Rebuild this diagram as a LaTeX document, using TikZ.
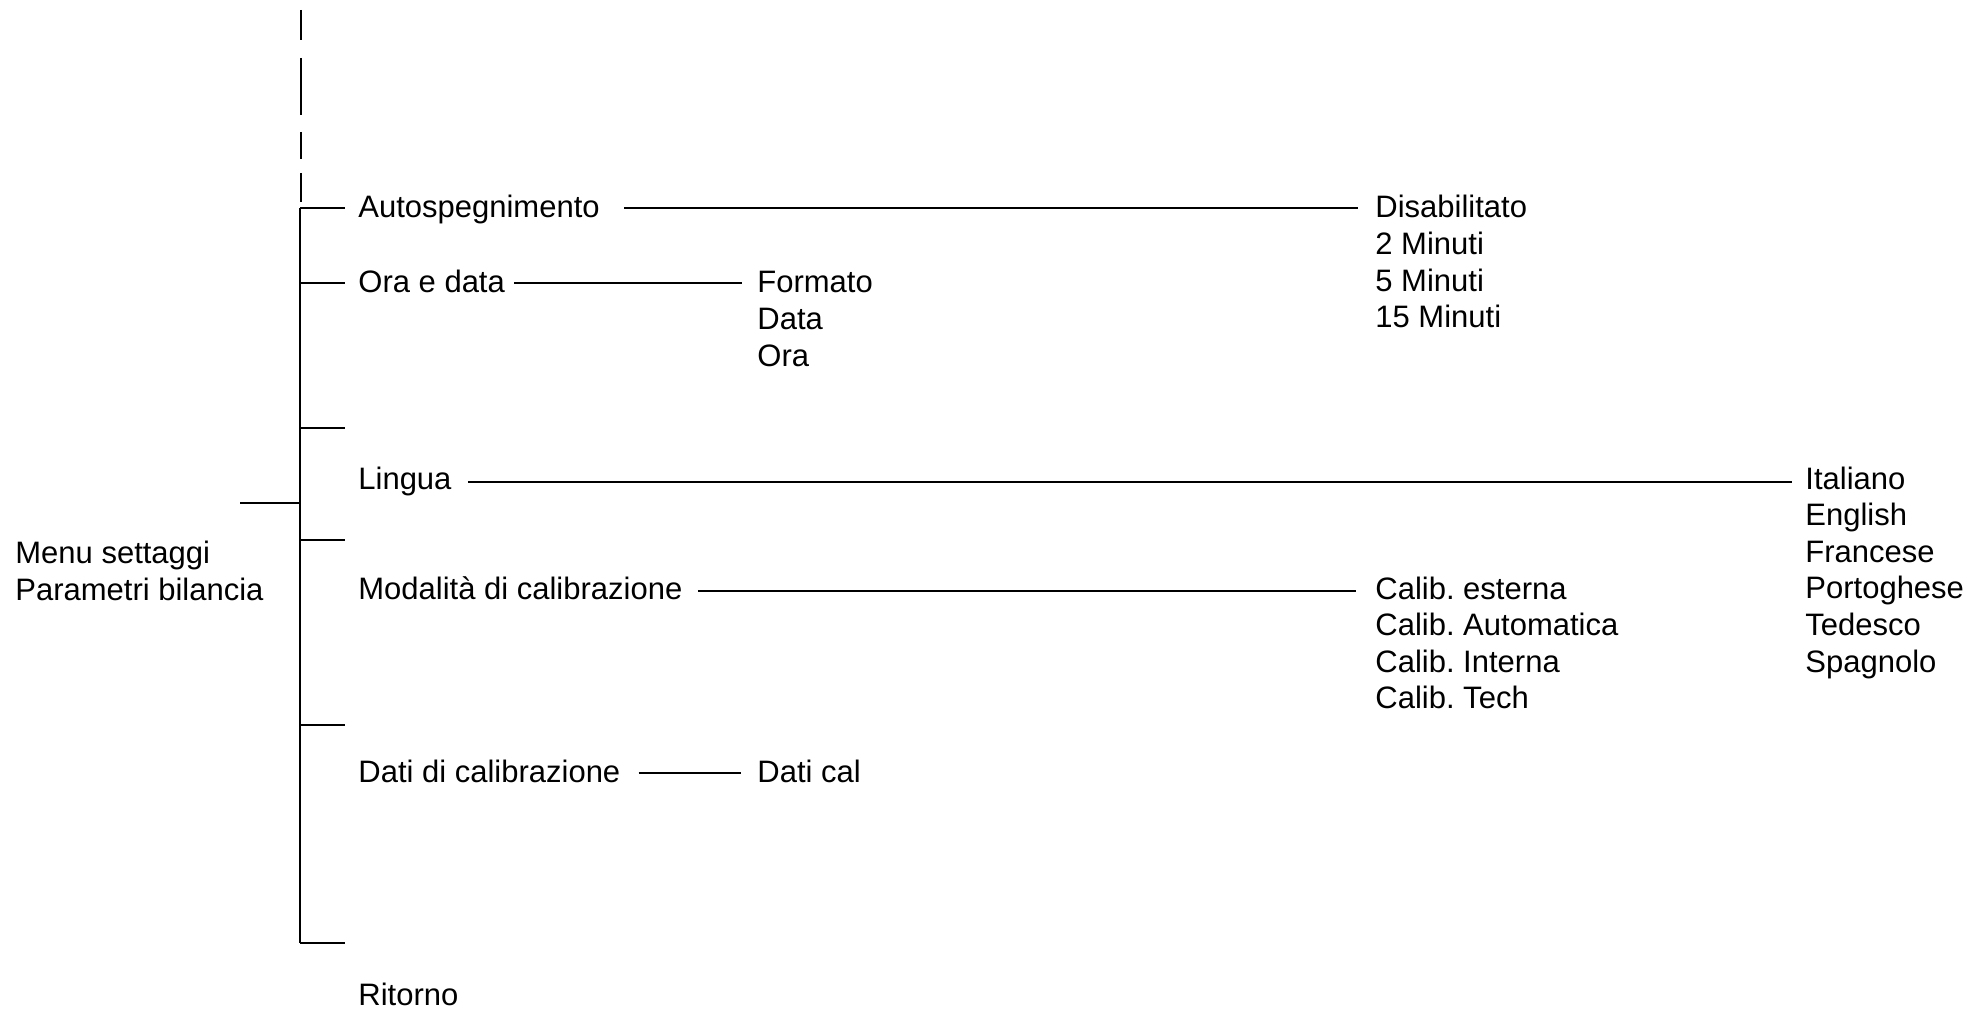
\documentclass[tikz,border=0pt]{standalone}
\usepackage{fontspec}
\setmainfont{Liberation Sans}
\usetikzlibrary{calc}
\frenchspacing
\begin{document}
\begin{tikzpicture}[x=0.5pt,y=-0.5pt,
  txt/.style={anchor=base west,inner sep=0pt,font=\fontsize{15.5pt}{18.3pt}\selectfont},
  ln/.style={line width=1.2pt}]
\useasboundingbox (0,0) rectangle (1969,1010);
% root
\node[txt] (menu) at (15,563) {Menu settaggi};
\node[txt] (param) at (15,600) {Parametri bilancia};
% level 1
\node[txt] (autosp) at (358,218) {Autospegnimento};
\node[txt] (oradata) at (358,293) {Ora e data};
\node[txt] (lingua) at (358,489) {Lingua};
\node[txt] (modal) at (358,599) {Modalità di calibrazione};
\node[txt] (daticalib) at (358,782) {Dati di calibrazione};
\node[txt] (ritorno) at (358,1005) {Ritorno};
% level 2: ora e data / dati
\node[txt] (formato) at (757,293) {Formato};
\node[txt] (data) at (757,329.6) {Data};
\node[txt] (ora) at (757,366.2) {Ora};
\node[txt] (datical) at (757,782) {Dati cal};
% autospegnimento options
\node[txt] (disab) at (1375,218) {Disabilitato};
\node[txt] (min2) at (1375,254.6) {2 Minuti};
\node[txt] (min5) at (1375,291.2) {5 Minuti};
\node[txt] (min15) at (1375,327.8) {15 Minuti};
% calibration options
\node[txt] (calest) at (1375,599) {Calib. esterna};
\node[txt] (calaut) at (1375,635.6) {Calib. Automatica};
\node[txt] (calint) at (1375,672.2) {Calib. Interna};
\node[txt] (caltech) at (1375,708.8) {Calib. Tech};
% languages
\node[txt] (ita) at (1805,489) {Italiano};
\node[txt] (eng) at (1805,525.6) {English};
\node[txt] (fra) at (1805,562.2) {Francese};
\node[txt] (por) at (1805,598.8) {Portoghese};
\node[txt] (ted) at (1805,635.4) {Tedesco};
\node[txt] (spa) at (1805,672) {Spagnolo};
% tree
\coordinate (root) at (240,503);
\coordinate (spine) at (300,503);
\draw[ln] (root) -- (spine);
\draw[ln] (300,208) -- (300,943);
\foreach \y in {208,283,428,540,725,943} \draw[ln] (300,\y) -- (345,\y);
\foreach \a/\b in {10/40,58/87,87/115,132/159,173/202} \draw[ln] (301,\a) -- (301,\b);
% connectors
\draw[ln] ([xshift=12pt,yshift=5pt]autosp.base east) -- ([xshift=-8.5pt,yshift=5pt]disab.base west);
\draw[ln] ([xshift=4.5pt,yshift=5pt]oradata.base east) -- ([xshift=-7.5pt,yshift=5pt]formato.base west);
\draw[ln] ([xshift=8pt,yshift=3.5pt]lingua.base east) -- ([xshift=-6.5pt,yshift=3.5pt]ita.base west);
\draw[ln] ([xshift=7.5pt,yshift=4pt]modal.base east) -- ([xshift=-9.5pt,yshift=4pt]calest.base west);
\draw[ln] ([xshift=9pt,yshift=4.5pt]daticalib.base east) -- ([xshift=-8pt,yshift=4.5pt]datical.base west);
\end{tikzpicture}
\end{document}
